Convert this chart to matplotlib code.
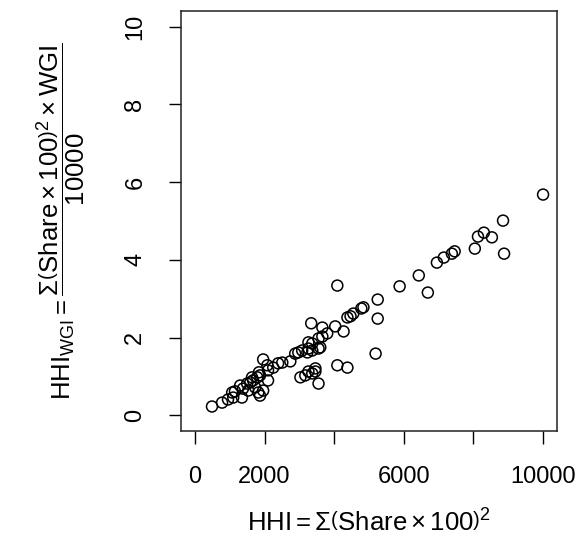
import matplotlib
matplotlib.use('Agg')
import matplotlib.pyplot as plt

plt.rcParams['font.family'] = ['Liberation Sans', 'DejaVu Sans']
plt.rcParams['mathtext.fontset'] = 'custom'
plt.rcParams['mathtext.rm'] = 'Liberation Sans'
plt.rcParams['mathtext.it'] = 'Liberation Sans:italic'
plt.rcParams['mathtext.bf'] = 'Liberation Sans:bold'
plt.rcParams['mathtext.sf'] = 'Liberation Sans'

# HHI vs WGI-weighted HHI, one point per commodity
hhi = [10000, 8850, 8880, 8530, 8300, 8130, 8040, 7460, 7380, 7150,
       6950, 6690, 6430, 5880, 5250, 5250, 5190, 4840, 4780, 4550,
       4470, 4380, 4090, 4270, 4030, 3800, 3660, 3660, 3340, 3550,
       3550, 3370, 3230, 4090, 4380, 3460, 3550, 3460, 3370, 3170,
       3030, 3260, 3600, 3370, 3260, 3080, 2970, 2880, 2740, 2510,
       2390, 2250, 2100, 2100, 1960, 1870, 1790, 1670, 1590, 1500,
       1380, 1150, 1070, 1100, 950, 780, 490, 1870, 1820, 1960,
       1730, 1530, 1300, 1640, 1840, 2080, 1350, 3260]
hhi_wgi = [5.68, 5.01, 4.16, 4.58, 4.70, 4.60, 4.29, 4.22, 4.16, 4.06,
           3.93, 3.16, 3.60, 3.32, 2.98, 2.49, 1.59, 2.78, 2.75, 2.62,
           2.55, 2.52, 3.34, 2.16, 2.29, 2.11, 2.26, 2.03, 2.37, 1.98,
           1.72, 1.67, 1.62, 1.29, 1.23, 1.21, 0.82, 1.13, 1.08, 1.03,
           0.98, 1.88, 1.75, 1.85, 1.72, 1.67, 1.62, 1.59, 1.39, 1.36,
           1.34, 1.23, 1.16, 0.90, 1.44, 1.03, 0.98, 0.90, 0.85, 0.82,
           0.69, 0.62, 0.59, 0.46, 0.41, 0.33, 0.23, 0.51, 0.59, 0.64,
           0.72, 0.64, 0.77, 0.98, 1.11, 1.29, 0.46, 1.13]

x_ticks = [0, 2000, 4000, 6000, 8000, 10000]
x_ticklabels = ['0', '2000', '', '6000', '', '10000']
y_ticks = [0, 2, 4, 6, 8, 10]

W, H = 582, 541
fig = plt.figure(figsize=(W / 100, H / 100), dpi=100)
ax = fig.add_axes([181 / W, 1 - 431 / H, (557 - 181) / W, (431 - 11) / H])

ax.scatter(hhi, hhi_wgi, s=62, facecolors='none', edgecolors='black', linewidths=1.1)

ax.set_xlim(-400, 10400)
ax.set_ylim(-0.4, 10.4)
ax.set_xticks(x_ticks)
ax.set_xticklabels(x_ticklabels)
ax.set_yticks(y_ticks)
ax.set_yticklabels([str(v) for v in y_ticks], rotation=90, va='center')
ax.tick_params(axis='both', direction='out', length=9, width=1, labelsize=17, colors='black')
ax.tick_params(axis='x', pad=16)
ax.tick_params(axis='y', pad=16)
for s in ax.spines.values():
    s.set_linewidth(1.1)
    s.set_color('#222222')

fig.text(369 / W, 1 - 523 / H, r'$\mathrm{HHI} = \Sigma\left(\mathrm{Share} \times 100\right)^2$',
         ha='center', va='center', fontsize=18.5)
fig.text(61 / W, 1 - 221 / H,
         r'$\mathrm{HHI}_{\mathrm{WGI}} = \dfrac{\Sigma\left(\mathrm{Share} \times 100\right)^2 \times \mathrm{WGI}}{10000}$',
         ha='center', va='center', rotation=90, fontsize=18.5)

fig.savefig('out.png', dpi=100)
